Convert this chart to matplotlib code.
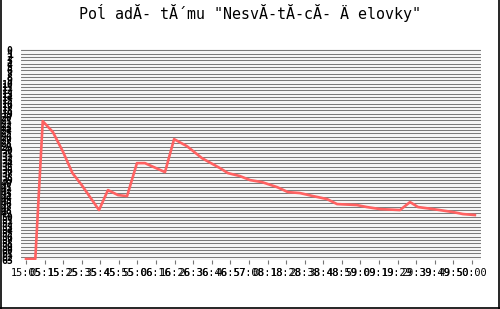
import numpy as np
import matplotlib
matplotlib.use("Agg")
import matplotlib.pyplot as plt
from matplotlib.lines import Line2D

# minutes from the first sample and the value
minuty = [0, 5, 9, 14.5, 20, 25, 30, 39.3, 44.1, 49.5, 54.4, 59.7, 64, 74.8, 79.7,
          86.6, 94.7, 104.4, 108.7, 115.2, 120.6, 127, 135.1, 141, 147.5, 154.5,
          162, 167.4, 178.1, 183.5, 190.5, 201.3, 206.7, 211, 219, 229.8, 235.2, 241.6]
hodnoty = [0.3, 0.3, 41.7, 38.4, 32.4, 26.1, 22.5, 15.0, 21.0, 19.5, 19.2, 29.1, 29.1,
           26.4, 36.3, 34.2, 30.6, 27.6, 26.1, 25.2, 24.0, 23.4, 21.9, 20.4, 20.1,
           19.2, 18.3, 16.8, 16.5, 15.9, 15.3, 15.0, 17.4, 15.9, 15.3, 14.4, 13.8, 13.5]

# x popisky (prekryvaju sa rovnako ako v originali)
skupiny = ["15", "05", "15", "25", "35", "45", "55", "06", "16", "26", "36", "46", "57",
           "08", "18", "28", "38", "48", "59", "09", "19", "29", "39", "49", "50", "00"]
x_popisky = [skupiny[i] + ":" + skupiny[i + 1] for i in range(len(skupiny) - 1)]
x_ticky = list(range(0, 10 * len(x_popisky), 10))

y_ticky = list(range(0, 64))
y_popisky = [str(63 - v) for v in y_ticky]

nazov = 'Poĺ adĂ- tĂ´mu "NesvĂ-tĂ-cĂ- Ä elovky"'

fig = plt.figure(figsize=(5, 3.09), dpi=100)
fig.patch.set_facecolor("white")
ax = fig.add_axes([0.042, 0.1586, 0.92, 0.683])
ax.set_facecolor("#f6f6f6")

ax.plot(minuty, hodnoty, color="#ff6262", lw=1.9, solid_joinstyle="round", zorder=3)

ax.set_xlim(-2.7, 244.9)
ax.set_ylim(0, 63.4)

ax.set_yticks(y_ticky)
ax.set_yticklabels(y_popisky, family="DejaVu Sans Mono", fontsize=7, fontweight="bold")
ax.tick_params(axis="y", length=0, pad=6)

ax.set_xticks(x_ticky)
ax.set_xticklabels(x_popisky, family="DejaVu Sans Mono", fontsize=7.4)
ax.tick_params(axis="x", length=3, color="#777777", pad=3)

ax.grid(axis="y", color="#707070", lw=0.65)
ax.set_axisbelow(True)
for s in ax.spines.values():
    s.set_visible(False)

fig.text(0.5, 0.958, nazov, ha="center", va="center", family="DejaVu Sans Mono", fontsize=10.8)

# ramik vlavo, vpravo a dole
for xs, ys in [([0.001, 0.001], [0, 1]), ([0.998, 0.998], [0, 1]), ([0, 1], [0.002, 0.002])]:
    fig.lines.append(Line2D(xs, ys, transform=fig.transFigure, color="black", lw=1.2))

fig.savefig("out.png", dpi=100)
